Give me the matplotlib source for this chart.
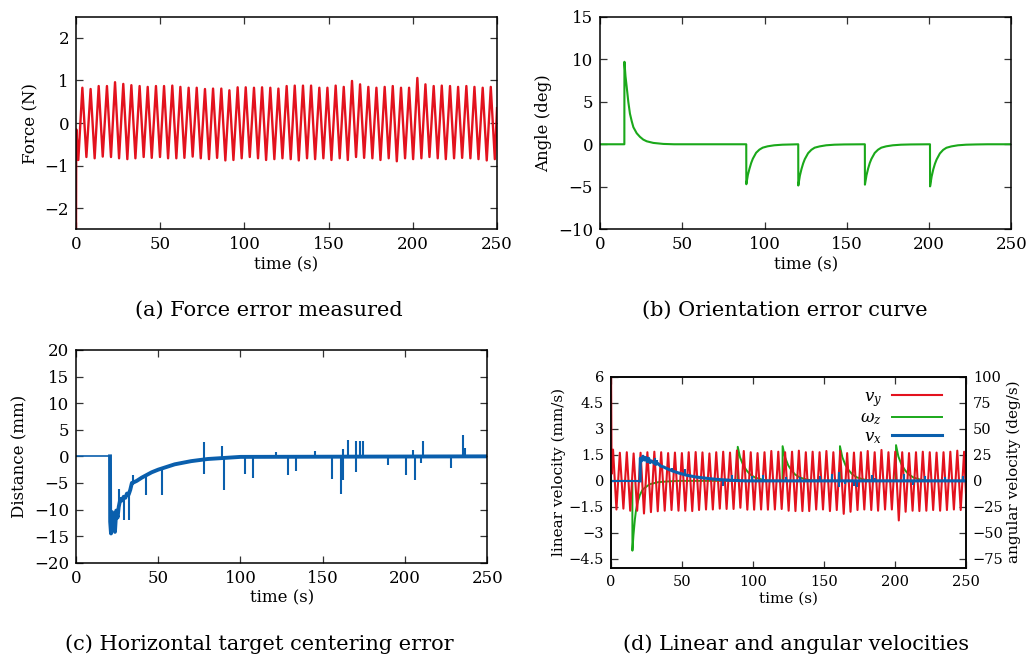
import numpy as np
import matplotlib
matplotlib.use("Agg")
import matplotlib.pyplot as plt
from matplotlib.ticker import FuncFormatter

plt.rcParams['font.family'] = ['DejaVu Serif']
plt.rcParams['mathtext.fontset'] = 'dejavuserif'

RED = '#e3121e'
GREEN = '#1aa81a'
BLUE = '#0a5fad'

# ---- (a) force error: extrema of the oscillation
a_peak_t = [3.8, 8.7, 13.5, 18.4, 23.2, 28.1, 32.9, 37.8, 42.6, 47.5,
            52.3, 57.2, 62.0, 66.9, 71.7, 76.6, 81.4, 86.3, 91.1, 96.0,
            100.8, 105.7, 110.5, 115.4, 120.2, 125.1, 129.9, 134.8, 139.6, 144.5,
            149.3, 154.2, 159.0, 163.9, 168.7, 173.6, 178.4, 183.3, 188.1, 193.0,
            197.8, 202.7, 207.5, 212.4, 217.2, 222.1, 226.9, 231.8, 236.6, 241.5,
            246.3]
a_peak_v = [0.83, 0.80, 0.87, 0.87, 0.96, 0.92, 0.89, 0.87, 0.85, 0.87,
            0.87, 0.88, 0.85, 0.83, 0.83, 0.80, 0.81, 0.81, 0.77, 0.84,
            0.84, 0.83, 0.84, 0.83, 0.81, 0.87, 0.88, 0.88, 0.88, 0.83,
            0.83, 0.88, 0.85, 0.99, 0.91, 0.85, 0.83, 0.85, 0.87, 0.83,
            0.83, 1.06, 0.91, 0.87, 0.88, 0.87, 0.85, 0.87, 0.85, 0.83,
            0.85]
a_trough_t = [1.4, 6.2, 11.1, 15.9, 20.8, 25.6, 30.5, 35.3, 40.2, 45.0,
              49.9, 54.7, 59.6, 64.4, 69.3, 74.1, 79.0, 83.8, 88.7, 93.5,
              98.4, 103.2, 108.1, 112.9, 117.8, 122.6, 127.5, 132.3, 137.2, 142.0,
              146.9, 151.7, 156.6, 161.4, 166.3, 171.1, 176.0, 180.8, 185.7, 190.5,
              195.4, 200.2, 205.1, 209.9, 214.8, 219.6, 224.5, 229.3, 234.2, 239.0,
              243.9, 248.7]
a_trough_v = [-0.87, -0.80, -0.83, -0.79, -0.80, -0.83, -0.85, -0.83, -0.80, -0.82,
              -0.80, -0.83, -0.83, -0.82, -0.79, -0.83, -0.85, -0.82, -0.88, -0.87,
              -0.83, -0.80, -0.83, -0.87, -0.85, -0.83, -0.85, -0.88, -0.83, -0.85,
              -0.83, -0.87, -0.83, -0.87, -0.80, -0.82, -0.83, -0.87, -0.83, -0.90,
              -0.83, -0.85, -0.83, -0.80, -0.83, -0.85, -0.83, -0.82, -0.83, -0.85,
              -0.88, -0.85]
a_edge_t = [0.0, 0.2, 250.0]
a_edge_v = [-3.0, -0.15, 0.35]

# ---- (b) orientation error
b_time = [0, 14.8, 14.85, 15.5, 16.2, 17.2, 18.2, 19.3, 20.3, 22.3, 24.3, 26.3, 28.4, 32.4, 38.5, 45,
          88.9, 88.95, 89.9, 90.9, 91.9, 92.9, 94.9, 96.9, 98.9, 101.9, 105.9, 110.9, 116.9,
          120.5, 120.55, 121.5, 122.5, 123.5, 124.5, 126.5, 128.5, 130.5, 133.5, 137.5, 142.5, 148.5,
          161.0, 161.05, 162.0, 163.0, 164.0, 165.0, 167.0, 169.0, 171.0, 174.0, 178.0, 183.0, 189.0,
          200.6, 200.65, 201.6, 202.6, 203.6, 204.6, 206.6, 208.6, 210.6, 213.6, 217.6, 222.6, 228.6, 235.6,
          250]
b_angle = [0, 0, 9.7, 8.0, 6.8, 5.0, 3.6, 2.7, 2.0, 1.3, 0.87, 0.55, 0.35, 0.16, 0.04, 0,
           0, -4.7, -3.6, -2.85, -2.2, -1.7, -1.0, -0.63, -0.4, -0.24, -0.12, -0.05, -0.02,
           0, -4.85, -3.7, -2.9, -2.25, -1.75, -1.05, -0.65, -0.4, -0.25, -0.12, -0.05, -0.02,
           0, -4.75, -3.65, -2.85, -2.2, -1.72, -1.02, -0.64, -0.4, -0.24, -0.12, -0.05, -0.02,
           0, -4.95, -3.8, -2.95, -2.3, -1.8, -1.08, -0.66, -0.41, -0.25, -0.12, -0.05, -0.02, 0,
           0]

# ---- (c) horizontal centering error: slow trend + spikes
c_time = [0, 20.7, 20.8, 21.3, 22.0, 23.0, 23.7, 24.5, 25.3, 26.0, 27.0, 28.0, 29.0, 30.0,
          31.0, 32.0, 33.0, 34.0, 35.0, 37.0, 40.0, 43.0, 46.0, 50.0, 55.0, 60.0, 65.0,
          70.0, 75.0, 80.0, 90.0, 100.0, 250.0]
c_dist = [0, 0, -12.3, -14.5, -10.5, -12.5, -14.2, -10.2, -11.5, -9.5, -8.0, -8.3, -7.6, -7.8,
          -7.0, -7.2, -6.3, -5.0, -4.9, -4.6, -4.0, -3.5, -3.0, -2.5, -2.0, -1.5, -1.2,
          -0.9, -0.7, -0.5, -0.3, -0.1, 0.0]
c_spike_t = [26.3, 29.3, 32.5, 34.6, 42.3, 52.0, 77.8, 88.5, 90.2, 102.7, 107.8, 121.6,
             128.6, 133.7, 145.3, 155.8, 161.3, 162.5, 165.1, 170.2, 172.6, 174.6, 189.8,
             200.6, 204.6, 206.0, 209.7, 211.1, 227.7, 235.0, 236.4]
c_spike_lo = [-9.5, -12.0, -12.0, -5.0, -7.3, -7.2, -3.4, -0.3, -6.4, -3.4, -4.0, 0.0,
              -3.6, -2.8, 0.0, -4.2, -7.0, -4.5, 0.0, -3.0, 0.0, 0.0, -1.7,
              -3.6, 0.0, -4.4, -1.3, 0.0, -2.2, 0.0, 0.0]
c_spike_hi = [-6.2, -7.6, -7.2, -3.6, -3.6, -2.3, 2.7, 2.0, -0.3, 0.0, 0.0, 0.8,
              0.0, 0.0, 1.0, 0.0, 0.3, 1.3, 3.1, 2.8, 2.8, 2.8, 0.0,
              0.0, 1.2, 0.0, 0.0, 2.9, 0.0, 4.0, 1.5]

# ---- (d) velocities
d_vy_peak_t = a_trough_t
d_vy_peak_v = [1.80, 1.62, 1.65, 1.58, 1.62, 1.65, 1.68, 1.65, 1.60, 1.63,
               1.60, 1.65, 1.66, 1.64, 1.58, 1.65, 1.68, 1.63, 1.75, 1.72,
               1.65, 1.60, 1.65, 1.72, 1.68, 1.65, 1.68, 1.74, 1.65, 1.68,
               1.65, 1.72, 1.65, 1.72, 1.60, 1.63, 1.65, 1.72, 1.65, 1.78,
               1.65, 1.68, 1.65, 1.60, 1.65, 1.68, 1.65, 1.63, 1.65, 1.68,
               1.74, 1.68]
d_vy_trough_t = a_peak_t
d_vy_trough_v = [-1.65, -1.60, -1.72, -1.72, -1.88, -1.80, -1.75, -1.72, -1.68, -1.72,
                 -1.72, -1.74, -1.68, -1.65, -1.65, -1.60, -1.62, -1.62, -1.55, -1.66,
                 -1.66, -1.65, -1.66, -1.65, -1.62, -1.72, -1.74, -1.74, -1.74, -1.65,
                 -1.65, -1.74, -1.68, -1.90, -1.78, -1.68, -1.65, -1.68, -1.72, -1.65,
                 -1.65, -2.28, -1.78, -1.72, -1.74, -1.72, -1.68, -1.72, -1.68, -1.65,
                 -1.68]
d_vy_edge_t = [0.0, 0.4, 250.0]
d_vy_edge_v = [6.5, 0.4, -0.7]

d_vx_t = [0, 20.5, 20.6, 21.5, 22.5, 23.5, 24.5, 25.5, 26.5, 27.5, 28.5, 30, 31.5, 33, 35,
          37, 39, 41, 44, 47, 50, 53, 56, 60, 65, 70, 77, 85, 95, 250]
d_vx_v = [0, 0, 1.30, 1.15, 1.42, 1.20, 1.35, 1.10, 1.30, 1.05, 1.15, 1.05, 0.95, 1.00, 0.85,
          0.80, 0.72, 0.65, 0.55, 0.47, 0.40, 0.33, 0.28, 0.22, 0.17, 0.12, 0.07, 0.03, 0.0, 0.0]
d_vx_spike_t = [31.0, 32.5, 42.7, 52.0, 79.0, 85.4, 99.0, 107.0, 123.5, 133.0, 147.0, 155.3,
                160.7, 164.7, 171.0, 173.0, 183.5, 186.0, 206.4, 212.5, 221.0, 235.3, 248.0]
d_vx_spike_lo = [0.9, 0.95, 0.6, 0.33, -0.27, 0.0, 0.0, 0.0, 0.0, 0.0, 0.0, 0.0,
                 -0.34, -0.19, -0.3, -0.34, 0.0, 0.0, 0.0, -0.25, 0.0, 0.0, 0.0]
d_vx_spike_hi = [1.29, 1.2, 0.72, 0.7, 0.05, 0.33, 0.3, 0.32, 0.2, 0.23, 0.27, 0.38,
                 0.51, 0.05, 0.05, 0.0, 0.32, 0.15, 0.38, 0.0, 0.27, 0.2, 0.27]

d_wz_t = [0, 15.0, 15.05, 15.8, 16.8, 17.6, 18.5, 20.3, 22.0, 23.8, 27.3, 33.0, 39.0, 48.0,
          89.2, 89.25, 90.9, 93.2, 95.5, 97.9, 101.4, 106.1, 110.9, 117.2,
          120.8, 120.85, 122.5, 124.8, 127.1, 129.5, 133.0, 137.7, 142.5, 148.8,
          161.2, 161.25, 162.9, 165.2, 167.5, 169.9, 173.4, 178.1, 182.9, 189.2,
          200.7, 200.75, 202.4, 204.7, 207.0, 209.4, 212.9, 217.6, 222.4, 228.7, 250]
d_wz_v = [0, 0, -67, -52, -37, -28, -21.5, -13.6, -9.0, -6.6, -3.2, -1.3, -0.6, 0,
          0, 32.7, 22.5, 14.7, 10.0, 6.2, 3.2, 1.3, 0.3, 0,
          0, 33.3, 22.8, 14.9, 10.1, 6.3, 3.2, 1.3, 0.3, 0,
          0, 33.3, 22.8, 14.9, 10.1, 6.3, 3.2, 1.3, 0.3, 0,
          0, 34.3, 23.4, 15.3, 10.4, 6.5, 3.3, 1.3, 0.3, 0, 0]


def zigzag(edge_t, edge_v, hi_t, hi_v, lo_t, lo_v):
    t = np.concatenate([edge_t, hi_t, lo_t])
    v = np.concatenate([edge_v, hi_v, lo_v])
    order = np.argsort(t, kind='stable')
    return t[order], v[order]


def style(ax, mirror_y=True):
    for s in ax.spines.values():
        s.set_linewidth(1.1)
    ax.tick_params(direction='in', length=5, width=0.9, labelsize=12, pad=5,
                   top=True, right=mirror_y, color='#333333')
    ax.set_xlim(0, 250)
    ax.set_xticks([0, 50, 100, 150, 200, 250])


fig = plt.figure(figsize=(10.32, 6.61), dpi=100)

# (a)
ax = fig.add_axes([0.0736, 0.6531, 0.408, 0.3216])
t, v = zigzag(a_edge_t, a_edge_v, a_peak_t, a_peak_v, a_trough_t, a_trough_v)
ax.plot(t, v, color=RED, lw=1.7)
ax.set_ylim(-2.5, 2.5)
ax.set_yticks([-2, -1, 0, 1, 2])
style(ax)
ax.set_xlabel('time (s)', fontsize=12, labelpad=2)
ax.set_ylabel('Force (N)', fontsize=12)

# (b)
ax = fig.add_axes([0.5814, 0.6531, 0.3985, 0.3216])
ax.plot(b_time, b_angle, color=GREEN, lw=1.5)
ax.set_ylim(-10, 15)
ax.set_yticks([-10, -5, 0, 5, 10, 15])
style(ax)
ax.set_xlabel('time (s)', fontsize=12, labelpad=2)
ax.set_ylabel('Angle (deg)', fontsize=12)

# (c)
ax = fig.add_axes([0.0736, 0.1487, 0.3986, 0.3218])
ax.plot(c_time[:2], c_dist[:2], color=BLUE, lw=1.2)
ax.plot(c_time[1:], c_dist[1:], color=BLUE, lw=2.8)
ax.vlines(c_spike_t, c_spike_lo, c_spike_hi, color=BLUE, lw=1.5)
ax.set_ylim(-20, 20)
ax.set_yticks(range(-20, 21, 5))
style(ax)
ax.set_xlabel('time (s)', fontsize=12, labelpad=2)
ax.set_ylabel('Distance (mm)', fontsize=12)

# (d)
ax1 = fig.add_axes([0.5921, 0.1412, 0.3439, 0.2889])
ax2 = ax1.twinx()
ax1.set_zorder(ax2.get_zorder() + 1)
ax1.patch.set_visible(False)
t, v = zigzag(d_vy_edge_t, d_vy_edge_v, d_vy_peak_t, d_vy_peak_v, d_vy_trough_t, d_vy_trough_v)
l_vy, = ax1.plot(t, v, color=RED, lw=1.5, label=r'$v_y$')
ax1.plot(d_vx_t[:2], d_vx_v[:2], color=BLUE, lw=1.5)
l_vx, = ax1.plot(d_vx_t[1:], d_vx_v[1:], color=BLUE, lw=2.2, label=r'$v_x$')
ax1.vlines(d_vx_spike_t, d_vx_spike_lo, d_vx_spike_hi, color=BLUE, lw=1.5)
l_wz, = ax2.plot(d_wz_t, d_wz_v, color=GREEN, lw=1.4, label=r'$\omega_z$')
ax1.set_ylim(-5, 6)
ax1.set_yticks([-4.5, -3, -1.5, 0, 1.5, 3, 4.5, 6])
ax1.yaxis.set_major_formatter(FuncFormatter(lambda x, p: f'{x:g}'.replace('-', '\u2212')))
ax2.set_ylim(-250 / 3, 100)
ax2.set_yticks(range(-75, 101, 25))
style(ax1, mirror_y=False)
ax1.tick_params(labelsize=10.5)
ax2.tick_params(direction='in', length=5, width=0.9, labelsize=10.5, pad=5, color='#333333')
for s in ax2.spines.values():
    s.set_linewidth(1.1)
ax1.set_xlabel('time (s)', fontsize=11, labelpad=2)
ax1.set_ylabel('linear velocity (mm/s)', fontsize=11, labelpad=2)
ax2.set_ylabel('angular velocity (deg/s)', fontsize=11, labelpad=2)
ax1.legend([l_vy, l_wz, l_vx], [r'$v_y$', r'$\omega_z$', r'$v_x$'], loc='upper right',
           bbox_to_anchor=(0.955, 0.985), frameon=False, markerfirst=False,
           handlelength=3.0, handletextpad=0.6, labelspacing=0.05, borderpad=0,
           fontsize=12)

# captions
cap = dict(ha='center', va='center', fontsize=15)
fig.text(0.2607, 0.531, '(a) Force error measured', **cap)
fig.text(0.760, 0.531, '(b) Orientation error curve', **cap)
fig.text(0.251, 0.026, '(c) Horizontal target centering error', **cap)
fig.text(0.771, 0.026, '(d) Linear and angular velocities', **cap)

fig.savefig('out.png', dpi=100)
